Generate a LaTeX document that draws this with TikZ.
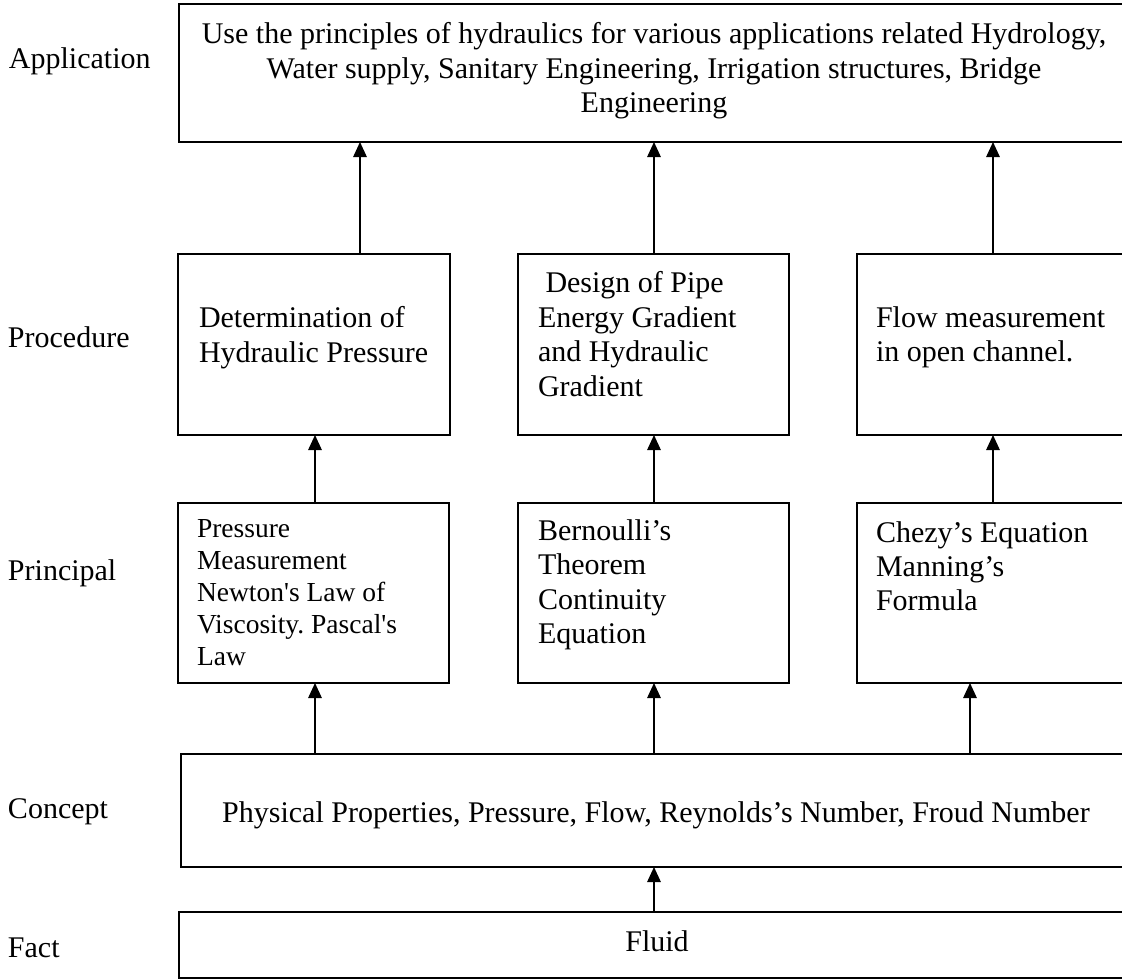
\documentclass[tikz,border=0pt]{standalone}
\usepackage{fontspec}
\setmainfont{Liberation Serif}
\usetikzlibrary{arrows.meta}
\frenchspacing
\begin{document}
\begin{tikzpicture}[x=1pt,y=-1pt,
  every node/.style={inner sep=0pt,outer sep=0pt},
  box/.style={draw=black,line width=1.4pt,anchor=north west,rectangle},
  txt/.style={font=\fontsize{30}{34.5}\selectfont,align=left,anchor=north west},
  smalltxt/.style={font=\fontsize{27.5}{32}\selectfont,align=left,anchor=north west},
  lbl/.style={font=\fontsize{30}{34.5}\selectfont,anchor=base west},
  arr/.style={line width=1.4pt,-{Triangle[length=15pt,width=13.5pt]}}]
\useasboundingbox (0,0) rectangle (1122,980);
\clip (0,0) rectangle (1122,980);
\fill[white] (0,0) rectangle (1122,980);

% level labels
\node[lbl] (lapp) at (9,68) {Application};
\node[lbl] (lproc) at (8,347) {Procedure};
\node[lbl] (lprin) at (8,580) {Principal};
\node[lbl] (lcon) at (8,818) {Concept};
\node[lbl] (lfact) at (8,957) {Fact};

% boxes
\node[box,minimum width=956pt,minimum height=138pt] (app) at (179,4) {};
\node[box,minimum width=272pt,minimum height=181pt] (pl) at (178,254) {};
\node[box,minimum width=271pt,minimum height=181pt] (pm) at (518,254) {};
\node[box,minimum width=278pt,minimum height=181pt] (pr) at (857,254) {};
\node[box,minimum width=271pt,minimum height=180pt] (ql) at (178,503) {};
\node[box,minimum width=271pt,minimum height=180pt] (qm) at (518,503) {};
\node[box,minimum width=278pt,minimum height=180pt] (qr) at (857,503) {};
\node[box,minimum width=954pt,minimum height=113pt] (con) at (181,754) {};
\node[box,minimum width=956pt,minimum height=66pt] (fl) at (179,912) {};

% texts
\node[txt,align=center,anchor=north] (apptxt) at (654,22.5)
  {Use the principles of hydraulics for various applications related Hydrology,\\
   Water supply, Sanitary Engineering, Irrigation structures, Bridge\\
   Engineering};
\node[txt] (pltxt) at (199,306.5) {Determination of\\Hydraulic Pressure};
\node[txt] (pmtxt) at (538,271.5) {\hspace*{7.5pt}Design of Pipe\\Energy Gradient\\and Hydraulic\\Gradient};
\node[txt] (prtxt) at (876,306.5) {Flow measurement\\in open channel.};
\node[smalltxt] (qltxt) at (197,519)
  {Pressure\\Measurement\\Newton\textquotesingle s Law of\\Viscosity. Pascal\textquotesingle s\\Law};
\node[txt] (qmtxt) at (538,519.5) {Bernoulli’s\\Theorem\\Continuity\\Equation};
\node[txt,font=\fontsize{30}{34}\selectfont] (qrtxt) at (876,521.5) {Chezy’s Equation\\Manning’s\\Formula};
\node[lbl,anchor=base] (contxt) at (656,822)
  {Physical Properties, Pressure, Flow, Reynolds’s Number, Froud Number};
\node[lbl,anchor=base] (fltxt) at (657,951) {Fluid};

% arrow columns
\coordinate (xa) at (360,0);
\coordinate (xb) at (654,0);
\coordinate (xc) at (993,0);
\coordinate (xd) at (315,0);
\coordinate (xe) at (970,0);

\draw[arr] (pl.north -| xa) -- (app.south -| xa);
\draw[arr] (pm.north -| xb) -- (app.south -| xb);
\draw[arr] (pr.north -| xc) -- (app.south -| xc);
\draw[arr] (ql.north -| xd) -- (pl.south -| xd);
\draw[arr] (qm.north -| xb) -- (pm.south -| xb);
\draw[arr] (qr.north -| xc) -- (pr.south -| xc);
\draw[arr] (con.north -| xd) -- (ql.south -| xd);
\draw[arr] (con.north -| xb) -- (qm.south -| xb);
\draw[arr] (con.north -| xe) -- (qr.south -| xe);
\draw[arr] (fl.north -| xb) -- (con.south -| xb);
\end{tikzpicture}
\end{document}
